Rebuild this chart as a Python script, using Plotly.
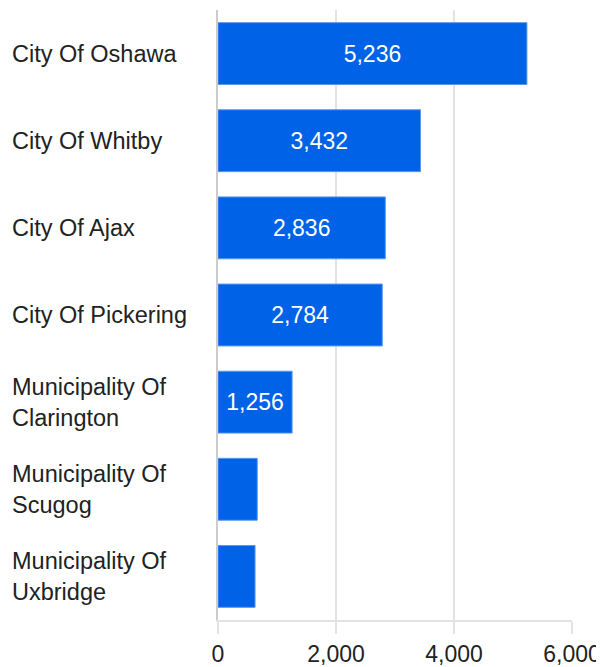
import plotly.graph_objects as go

# Data
places = ['City Of Oshawa', 'City Of Whitby', 'City Of Ajax', 'City Of Pickering',
          'Municipality Of<br>Clarington', 'Municipality Of<br>Scugog', 'Municipality Of<br>Uxbridge']
counts = [5236, 3432, 2836, 2784, 1256, 665, 628]
x_ticks = [0, 2000, 4000, 6000]
x_tick_labels = ['0', '2,000', '4,000', '6,000']

font_family = 'Arial, Liberation Sans, sans-serif'

fig = go.Figure(go.Bar(
    x=counts,
    y=places,
    orientation='h',
    marker=dict(color='#0062E6', line=dict(color='#5b97ee', width=1)),
    text=[f'{c:,}' for c in counts],
    textposition='inside',
    insidetextanchor='middle',
    textangle=0,
    textfont=dict(color='white', size=23, family=font_family),
    width=0.71,
))

# left-aligned category labels
for p in places:
    fig.add_annotation(x=-208 / 354, xref='paper', y=p, yref='y', text=p,
                       showarrow=False, xanchor='left', align='left',
                       font=dict(size=23.5, color='#222222', family=font_family))

# the page body adds an 8px margin, so the figure is a bit smaller than the window
fig.update_layout(
    width=596, height=659,
    margin=dict(l=210, r=32, t=2, b=47),
    plot_bgcolor='white', paper_bgcolor='white',
    showlegend=False,
    uniformtext=dict(minsize=23, mode='hide'),
    font=dict(family=font_family, color='#222222'),
)
fig.update_xaxes(
    range=[0, 6000], tickvals=x_ticks, ticktext=x_tick_labels,
    showgrid=True, gridcolor='#e3e3e3', gridwidth=2,
    ticks='outside', ticklen=12, tickcolor='#e3e3e3', tickwidth=2,
    showline=True, linecolor='#e3e3e3', linewidth=2,
    zeroline=False, tickfont=dict(size=23, color='#222222'),
    automargin=False,
)
fig.update_yaxes(
    autorange='reversed', showticklabels=False, showgrid=False,
    showline=True, linecolor='#cccccc', linewidth=2,
    automargin=False,
)

fig.write_html("out.html")
